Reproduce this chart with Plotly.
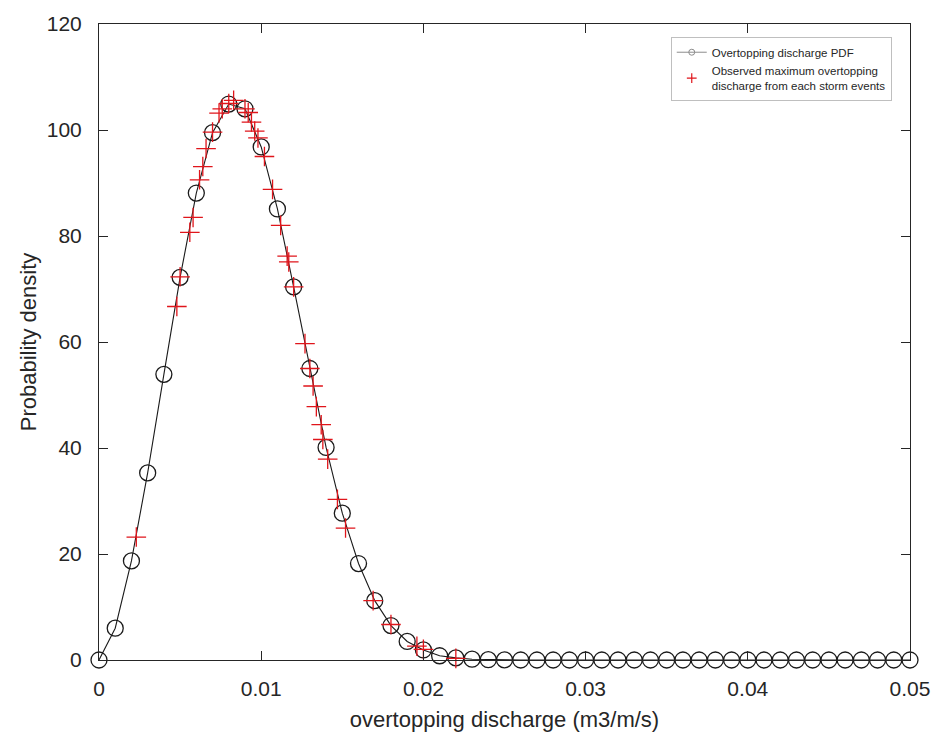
import plotly.graph_objects as go

# PDF curve (circles) at x = 0, 0.001, ..., 0.05
pdf_x = [round(i * 0.001, 3) for i in range(51)]
pdf_y = [0, 6.0, 18.7, 35.3, 53.9, 72.2, 88.1, 99.5, 104.9, 104.0,
         96.8, 85.1, 70.4, 55.0, 40.1, 27.7, 18.2, 11.2, 6.5, 3.5,
         1.9, 0.8, 0.4, 0.15, 0.06, 0.02, 0, 0, 0, 0,
         0, 0, 0, 0, 0, 0, 0, 0, 0, 0,
         0, 0, 0, 0, 0, 0, 0, 0, 0, 0, 0]

# Observed maxima (red crosses)
obs_x = [0.0023, 0.0048, 0.0050, 0.0056, 0.0058, 0.0062, 0.0064, 0.0066,
         0.0070, 0.0074, 0.0076, 0.0080, 0.0083, 0.0090, 0.0092, 0.0094,
         0.0096, 0.0098, 0.0102, 0.0107, 0.0112, 0.0116, 0.0117, 0.0120,
         0.0127, 0.0130, 0.0132, 0.0134, 0.0137, 0.0138, 0.0141, 0.0147,
         0.0152, 0.0169, 0.0180, 0.0196, 0.0200, 0.0220]
obs_y = [23.2, 66.7, 72.3, 80.7, 83.5, 90.6, 93.1, 96.5,
         99.6, 103.2, 104.0, 105.0, 105.6, 104.0, 103.3, 101.5,
         99.8, 98.5, 95.0, 88.8, 82.0, 76.2, 75.1, 70.4,
         59.7, 55.0, 51.7, 47.8, 44.4, 41.6, 37.9, 30.3,
         24.9, 11.2, 6.7, 2.6, 2.0, 0.3]

x_ticks = [0, 0.01, 0.02, 0.03, 0.04, 0.05]
x_tick_text = ["0", "0.01", "0.02", "0.03", "0.04", "0.05"]
y_ticks = [0, 20, 40, 60, 80, 100, 120]

name_pdf = "Overtopping discharge PDF"
name_obs = "Observed maximum overtopping<br>discharge from each storm events"

fig = go.Figure()
fig.add_trace(go.Scatter(
    x=pdf_x, y=pdf_y, mode="lines+markers", name=name_pdf, showlegend=False,
    line=dict(color="#1a1a1a", width=1.1),
    marker=dict(symbol="circle-open", size=16, color="#1a1a1a",
                line=dict(width=1.3, color="#1a1a1a")),
    cliponaxis=False,
))
fig.add_trace(go.Scatter(
    x=obs_x, y=obs_y, mode="markers", name=name_obs, showlegend=False,
    marker=dict(symbol="cross-thin-open", size=14, color="#e0151b",
                line=dict(width=1.3, color="#e0151b")),
    cliponaxis=False,
))
# legend-only entries with the small legend glyphs of the original
fig.add_trace(go.Scatter(
    x=[None], y=[None], mode="lines+markers", name=name_pdf,
    line=dict(color="#8c8c8c", width=1),
    marker=dict(symbol="circle-open", size=6, color="#8c8c8c",
                line=dict(width=1, color="#8c8c8c")),
))
fig.add_trace(go.Scatter(
    x=[None], y=[None], mode="markers", name=name_obs,
    marker=dict(symbol="cross-thin-open", size=7, color="#e0151b",
                line=dict(width=1.2, color="#e0151b")),
))

axis_common = dict(
    showgrid=False, zeroline=False, showline=True, linecolor="#262626",
    linewidth=1, mirror="ticks", ticks="inside", ticklen=9,
    tickcolor="#262626", tickwidth=1,
    tickfont=dict(family="Liberation Sans, Arial", size=21, color="#262626"),
)

fig.update_layout(
    width=942, height=744,
    margin=dict(l=99, r=25, t=19, b=84),
    paper_bgcolor="white", plot_bgcolor="white",
    xaxis=dict(range=[0, 0.05], tickvals=x_ticks, ticktext=x_tick_text,
               ticklabelstandoff=10,
               title=dict(text="overtopping discharge (m3/m/s)",
                          font=dict(family="Liberation Sans, Arial", size=22, color="#262626"),
                          standoff=12),
               **axis_common),
    yaxis=dict(range=[0, 120], tickvals=y_ticks, ticklabelstandoff=12,
               title=dict(text="Probability density",
                          font=dict(family="Liberation Sans, Arial", size=22, color="#262626"),
                          standoff=4),
               **axis_common),
    legend=dict(x=0.705, y=0.98, xanchor="left", yanchor="top",
                bgcolor="white", bordercolor="#bfbfbf", borderwidth=1,
                font=dict(family="Liberation Sans, Arial", size=11.5, color="#262626"),
                itemwidth=30, tracegroupgap=2),
    showlegend=True,
)

fig.write_html("out.html")
